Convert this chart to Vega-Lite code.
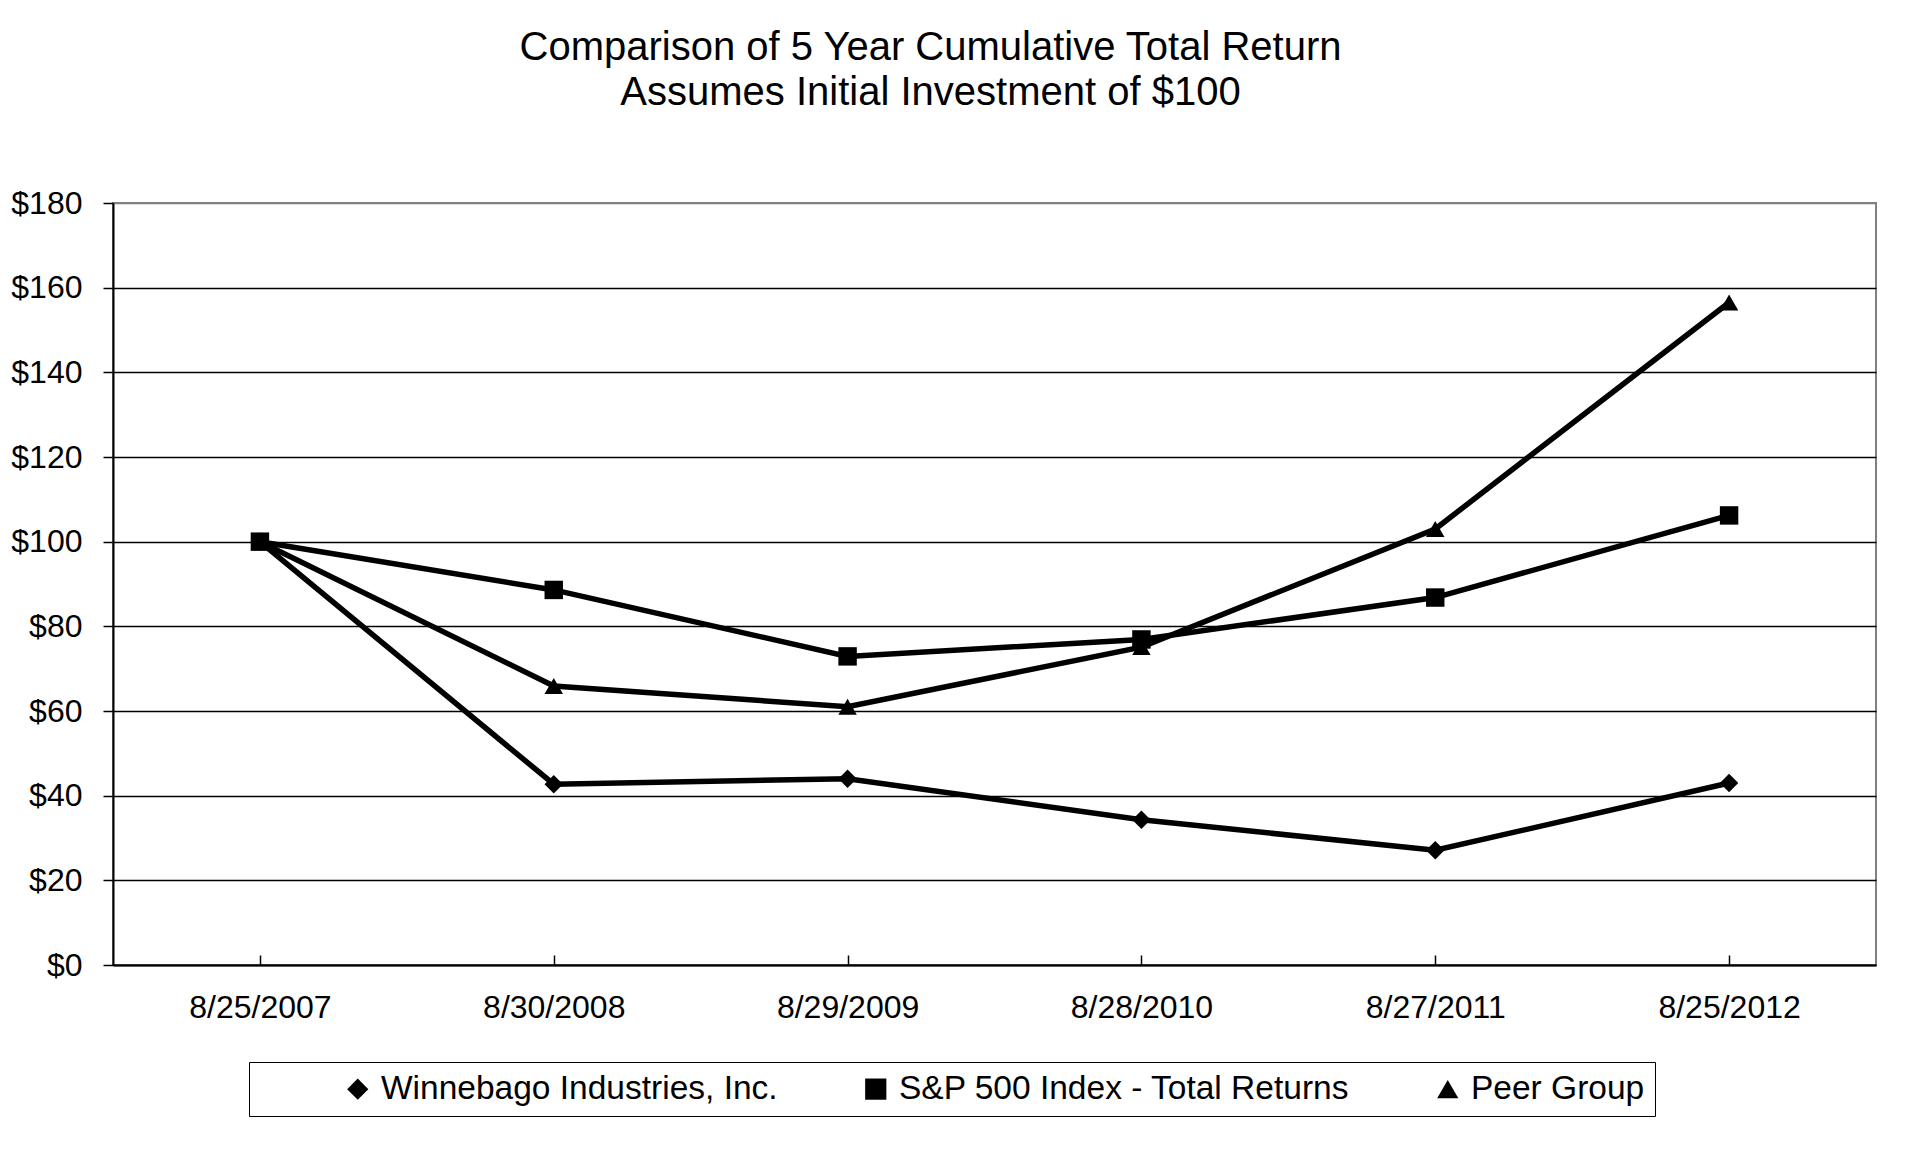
{
  "$schema": "https://vega.github.io/schema/vega-lite/v6.json",
  "width": 1763,
  "height": 762,
  "autosize": {"type": "none"},
  "padding": {"left": 113, "top": 203, "right": 49, "bottom": 185},
  "background": "white",
  "title": {
    "text": ["Comparison of 5 Year Cumulative Total Return", "Assumes Initial Investment of $100"],
    "font": "Liberation Sans",
    "fontSize": 40,
    "fontWeight": "normal",
    "color": "black",
    "lineHeight": 45,
    "anchor": "middle",
    "dx": -64,
    "offset": 74
  },
  "config": {
    "view": {"stroke": "#808080", "strokeWidth": 2},
    "font": "Liberation Sans"
  },
  "data": {
    "values": [
      {"date": "8/25/2007", "series": "Winnebago Industries, Inc.", "value": 100},
      {"date": "8/30/2008", "series": "Winnebago Industries, Inc.", "value": 42.7},
      {"date": "8/29/2009", "series": "Winnebago Industries, Inc.", "value": 44.0},
      {"date": "8/28/2010", "series": "Winnebago Industries, Inc.", "value": 34.3},
      {"date": "8/27/2011", "series": "Winnebago Industries, Inc.", "value": 27.1},
      {"date": "8/25/2012", "series": "Winnebago Industries, Inc.", "value": 43.0},
      {"date": "8/25/2007", "series": "S&P 500 Index - Total Returns", "value": 100},
      {"date": "8/30/2008", "series": "S&P 500 Index - Total Returns", "value": 88.6},
      {"date": "8/29/2009", "series": "S&P 500 Index - Total Returns", "value": 72.9},
      {"date": "8/28/2010", "series": "S&P 500 Index - Total Returns", "value": 76.9},
      {"date": "8/27/2011", "series": "S&P 500 Index - Total Returns", "value": 86.8},
      {"date": "8/25/2012", "series": "S&P 500 Index - Total Returns", "value": 106.2},
      {"date": "8/25/2007", "series": "Peer Group", "value": 100},
      {"date": "8/30/2008", "series": "Peer Group", "value": 65.9},
      {"date": "8/29/2009", "series": "Peer Group", "value": 61.0},
      {"date": "8/28/2010", "series": "Peer Group", "value": 75.1},
      {"date": "8/27/2011", "series": "Peer Group", "value": 103.0},
      {"date": "8/25/2012", "series": "Peer Group", "value": 156.5}
    ]
  },
  "encoding": {
    "x": {
      "field": "date",
      "type": "ordinal",
      "sort": null,
      "scale": {"type": "point", "padding": 0.5},
      "axis": {
        "title": null,
        "labelAngle": 0,
        "labelFont": "Liberation Sans",
        "labelFontSize": 32,
        "labelColor": "black",
        "labelPadding": 37,
        "domainColor": "black",
        "domainWidth": 2,
        "tickColor": "black",
        "tickSize": -10,
        "tickWidth": 1.5,
        "grid": false
      }
    },
    "y": {
      "field": "value",
      "type": "quantitative",
      "scale": {"domain": [0, 180], "nice": false},
      "axis": {
        "title": null,
        "values": [0, 20, 40, 60, 80, 100, 120, 140, 160, 180],
        "format": "$.0f",
        "labelFont": "Liberation Sans",
        "labelFontSize": 32,
        "labelColor": "black",
        "labelPadding": 21,
        "domainColor": "black",
        "domainWidth": 2,
        "tickColor": "black",
        "tickSize": 10,
        "tickWidth": 1.5,
        "grid": true,
        "gridColor": {"condition": {"test": "datum.value == 180", "value": "#808080"}, "value": "black"},
        "gridWidth": 1.5,
        "gridOpacity": 1
      }
    }
  },
  "layer": [
    {
      "mark": {"type": "line", "color": "black", "strokeWidth": 5.5},
      "encoding": {
        "detail": {"field": "series", "type": "nominal"}
      }
    },
    {
      "mark": {"type": "point", "filled": true, "color": "black", "opacity": 1, "size": 340},
      "encoding": {
        "shape": {
          "field": "series",
          "type": "nominal",
          "sort": null,
          "scale": {
            "domain": ["Winnebago Industries, Inc.", "S&P 500 Index - Total Returns", "Peer Group"],
            "range": ["diamond", "square", "triangle-up"]
          },
          "legend": {
            "title": " ",
            "titleOrient": "left",
            "titleFontSize": 1,
            "titlePadding": 82,
            "orient": "none",
            "legendX": 136,
            "legendY": 859,
            "direction": "horizontal",
            "labelFont": "Liberation Sans",
            "labelFontSize": 33.5,
            "labelColor": "black",
            "labelLimit": 1000,
            "labelOffset": 6.5,
            "symbolSize": 450,
            "symbolFillColor": "black",
            "symbolStrokeColor": "black",
            "symbolStrokeWidth": 0,
            "columnPadding": 81,
            "strokeColor": "black",
            "padding": 10
          }
        }
      }
    }
  ]
}
